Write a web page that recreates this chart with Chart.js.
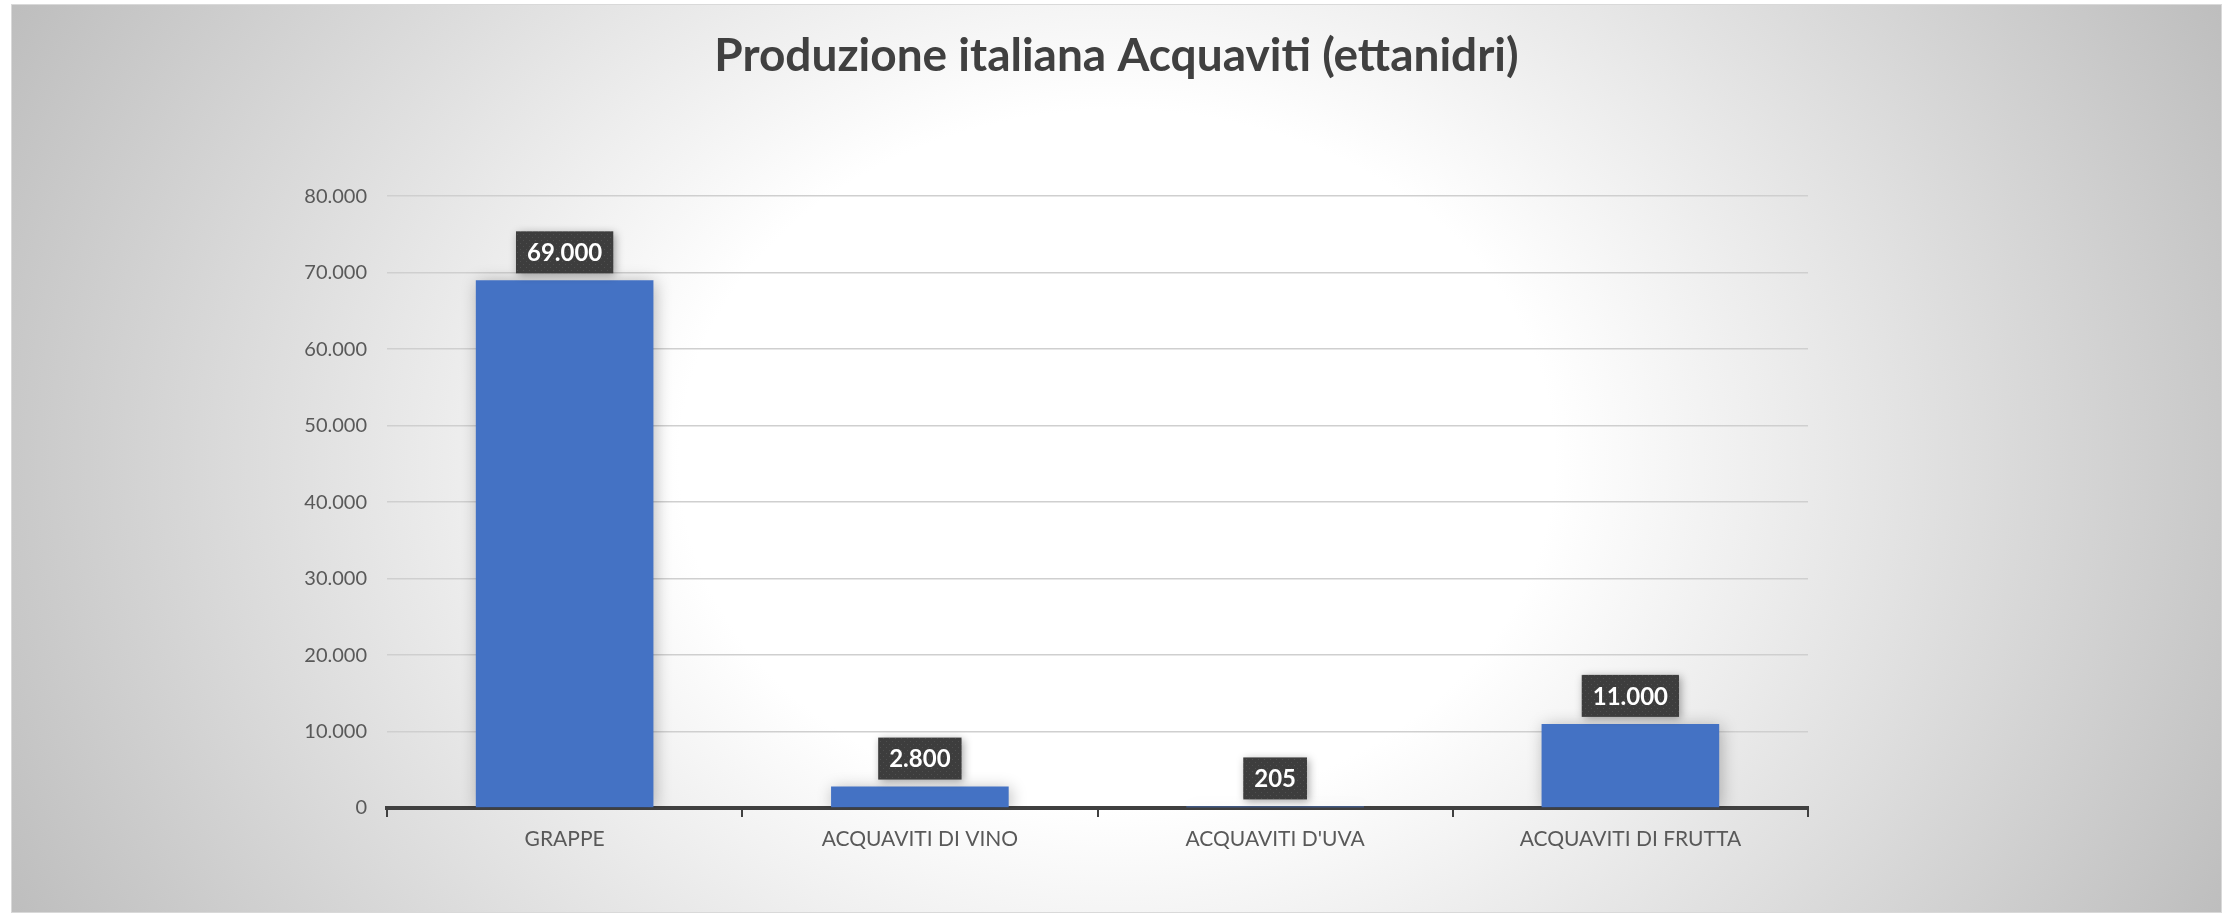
<!DOCTYPE html>
<html>
<head>
<meta charset="utf-8">
<script src="https://cdn.jsdelivr.net/npm/chart.js@4.4.1/dist/chart.umd.min.js"></script>
<style>
    html, body { margin: 0; padding: 0; background: #ffffff; }
    .chart-box {
        position: absolute;
        left: 11px;
        top: 4px;
        width: 2211px;
        height: 909px;
        box-sizing: border-box;
        border: 1px solid #d9d9d9;
        background: radial-gradient(ellipse 1250px 1000px at 1105px 455px, #ffffff 35%, #bdbdbd 100%);
    }
</style>
</head>
<body>
<div class="chart-box">
    <canvas id="chartCanvas"></canvas>
</div>
<script>
const categories = ['GRAPPE', 'ACQUAVITI DI VINO', "ACQUAVITI D'UVA", 'ACQUAVITI DI FRUTTA'];
const production = [69000, 2800, 205, 11000];
const yTicks = [0, 10000, 20000, 30000, 40000, 50000, 60000, 70000, 80000];
const chartTitle = 'Produzione italiana Acquaviti (ettanidri)';

// italian style thousands separator
const fmt = (v) => String(v).replace(/\B(?=(\d{3})+(?!\d))/g, '.');

// dotted dark fill used by the data labels
const dotCanvas = document.createElement('canvas');
dotCanvas.width = 6;
dotCanvas.height = 6;
const dctx = dotCanvas.getContext('2d');
dctx.fillStyle = '#3d3d3d';
dctx.fillRect(0, 0, 6, 6);
dctx.fillStyle = '#4f4f4f';
dctx.fillRect(1, 1, 1, 1);
dctx.fillRect(4, 4, 1, 1);

const barShadow = {
    id: 'barShadow',
    beforeDatasetsDraw(chart) {
        const ctx = chart.ctx;
        ctx.save();
        ctx.shadowColor = 'rgba(0, 0, 0, 0.28)';
        ctx.shadowBlur = 16;
        ctx.shadowOffsetX = 2;
        ctx.shadowOffsetY = 2;
    },
    afterDatasetsDraw(chart) {
        chart.ctx.restore();
    },
};

const valueLabels = {
    id: 'valueLabels',
    afterDraw(chart) {
        const ctx = chart.ctx;
        const meta = chart.getDatasetMeta(0);
        const pattern = ctx.createPattern(dotCanvas, 'repeat');
        ctx.save();
        ctx.font = 'bold 24px Lato';
        ctx.textAlign = 'center';
        ctx.textBaseline = 'middle';
        meta.data.forEach((bar, i) => {
            const text = fmt(chart.data.datasets[0].data[i]);
            const w = ctx.measureText(text).width + 22;
            const h = 42;
            const bx = bar.x - w / 2;
            const by = bar.y - 7 - h;
            ctx.save();
            ctx.shadowColor = 'rgba(0, 0, 0, 0.35)';
            ctx.shadowBlur = 8;
            ctx.shadowOffsetX = 2;
            ctx.shadowOffsetY = 2;
            ctx.fillStyle = pattern;
            ctx.fillRect(bx, by, w, h);
            ctx.restore();
            ctx.fillStyle = '#ffffff';
            ctx.fillText(text, bar.x, by + h / 2 + 1);
        });
        ctx.restore();
    },
};

new Chart(document.getElementById('chartCanvas'), {
    type: 'bar',
    data: {
        labels: categories,
        datasets: [
            {
                label: 'Ettanidri',
                data: production,
                backgroundColor: '#4472C4',
                barPercentage: 0.5,
                categoryPercentage: 1.0,
                yAxisID: 'y',
            },
        ],
    },
    options: {
        responsive: true,
        maintainAspectRatio: false,
        animation: false,
        layout: {
            padding: { top: 0, left: 200, right: 200, bottom: 54 },
        },
        plugins: {
            legend: { display: false },
            tooltip: { enabled: false },
            title: {
                display: true,
                text: chartTitle,
                color: '#404040',
                font: { family: 'Lato', size: 46, weight: 'bold', lineHeight: 1.2 },
                padding: { top: 24, bottom: 112 },
            },
        },
        scales: {
            x: {
                grid: {
                    display: true,
                    drawOnChartArea: false,
                    offset: true,
                    tickLength: 9,
                    color: '#404040',
                    lineWidth: 2,
                },
                border: { color: '#404040', width: 4 },
                ticks: {
                    color: '#595959',
                    padding: 10,
                    font: { family: 'Lato', size: 21 },
                },
                afterFit(scale) {
                    scale.height = 50;
                },
            },
            y: {
                min: 0,
                max: 80000,
                afterBuildTicks(scale) {
                    scale.ticks = yTicks.map((v) => ({ value: v }));
                },
                grid: {
                    color: '#cfcfcf',
                    lineWidth: 1.5,
                    drawTicks: false,
                },
                border: { display: false },
                ticks: {
                    color: '#595959',
                    padding: 20,
                    font: { family: 'Lato', size: 20 },
                    callback: (v) => fmt(v),
                },
                afterFit(scale) {
                    scale.width = 175;
                },
            },
            // empty right-hand axis, only keeps the plot off the right side
            spacer: {
                type: 'linear',
                position: 'right',
                display: true,
                grid: { display: false, drawTicks: false },
                border: { display: false },
                ticks: { display: false },
                afterFit(scale) {
                    scale.width = 213;
                },
            },
        },
    },
    plugins: [barShadow, valueLabels],
});
</script>
</body>
</html>
